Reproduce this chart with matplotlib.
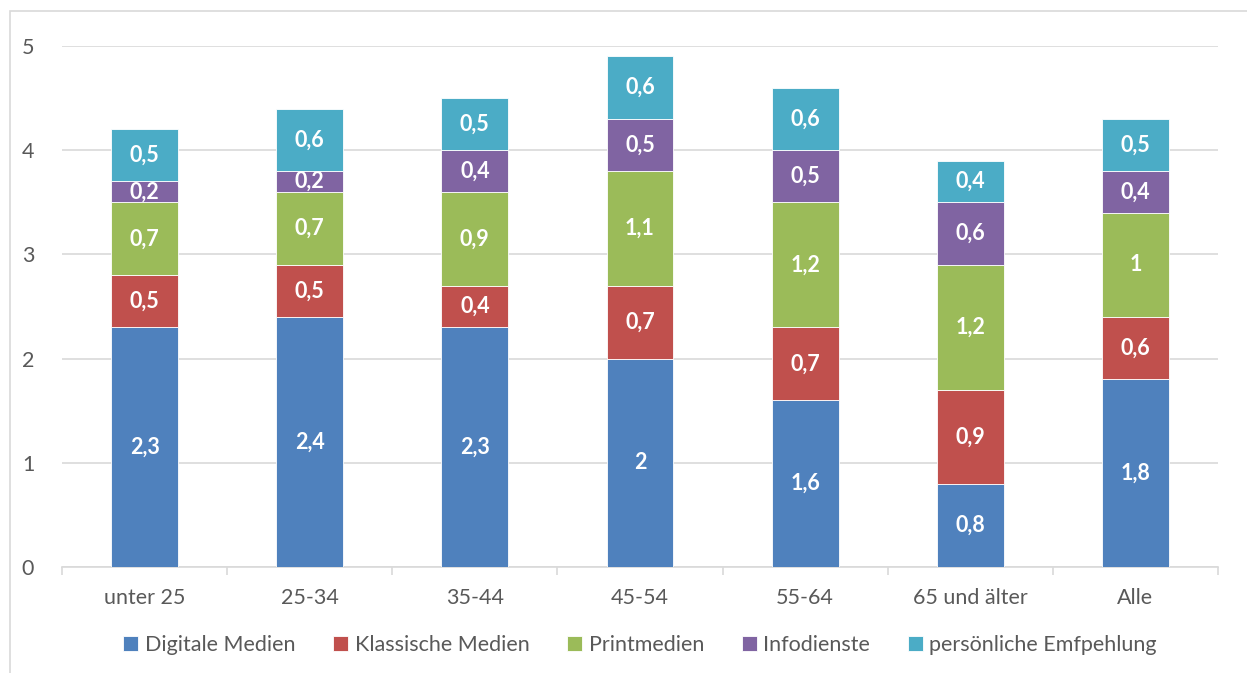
import numpy as np
import matplotlib.pyplot as plt
from matplotlib.patches import Rectangle

plt.rcParams['font.family'] = ['Lato', 'DejaVu Sans']

kategorien = ['unter 25', '25-34', '35-44', '45-54', '55-64', '65 und älter', 'Alle']
digital = [2.3, 2.4, 2.3, 2.0, 1.6, 0.8, 1.8]
klassisch = [0.5, 0.5, 0.4, 0.7, 0.7, 0.9, 0.6]
print_m = [0.7, 0.7, 0.9, 1.1, 1.2, 1.2, 1.0]
info = [0.2, 0.2, 0.4, 0.5, 0.5, 0.6, 0.4]
empf = [0.5, 0.6, 0.5, 0.6, 0.6, 0.4, 0.5]

serien = [digital, klassisch, print_m, info, empf]
namen = ['Digitale Medien', 'Klassische Medien', 'Printmedien', 'Infodienste',
         'persönliche Emfpehlung']
farben = ['#4F81BD', '#C0504D', '#9BBB59', '#8064A2', '#4BACC6']

fig = plt.figure(figsize=(12.47, 6.73), dpi=100)
ax = fig.add_axes([62/1247, 1-567/673, (1218-62)/1247, (567-46)/673])

x = np.arange(len(kategorien))
unten = np.zeros(len(kategorien))
for werte, name, farbe in zip(serien, namen, farben):
    werte = np.array(werte)
    bars = ax.bar(x, werte, 0.405, bottom=unten, color=farbe, label=name,
                  edgecolor='white', linewidth=0.6, zorder=3)
    for xi, b, v in zip(x, unten, werte):
        txt = ('%g' % v).replace('.', ',')
        ax.text(xi, b + v/2, txt, ha='center', va='center', color='white',
                fontsize=15.5, fontweight='bold', zorder=4)
    unten += werte

ax.set_xlim(-0.5, len(kategorien) - 0.5)
ax.set_ylim(0, 5)
ax.set_yticks([0, 1, 2, 3, 4, 5])
ax.yaxis.grid(True, color='#D9D9D9', linewidth=1.2, zorder=0)
ax.tick_params(axis='y', length=0, pad=20, labelsize=15.5, labelcolor='#595959')
ax.set_xticks(x)
ax.set_xticklabels(kategorien)
ax.set_xticks(np.arange(len(kategorien) + 1) - 0.5, minor=True)
ax.tick_params(axis='x', which='major', length=0, pad=15, labelsize=15.5,
               labelcolor='#595959')
ax.tick_params(axis='x', which='minor', length=6, color='#D9D9D9', width=1.2)
for s in ['top', 'right', 'left']:
    ax.spines[s].set_visible(False)
ax.spines['bottom'].set_color('#D9D9D9')
ax.spines['bottom'].set_linewidth(1.2)

leg = ax.legend(loc='center', bbox_to_anchor=(0.5, (645-567)/-(567-46)), ncol=5,
                frameon=False, fontsize=15.5, handlelength=0.7, handleheight=0.7,
                handletextpad=0.3, columnspacing=1.75)
for t in leg.get_texts():
    t.set_color('#595959')

fig.patches.append(Rectangle((10/1247, -0.1), 1.2, 1 - 11/673 + 0.1,
                             transform=fig.transFigure, fill=False,
                             edgecolor='#D9D9D9', linewidth=1.2))

fig.savefig('out.png', dpi=100)
